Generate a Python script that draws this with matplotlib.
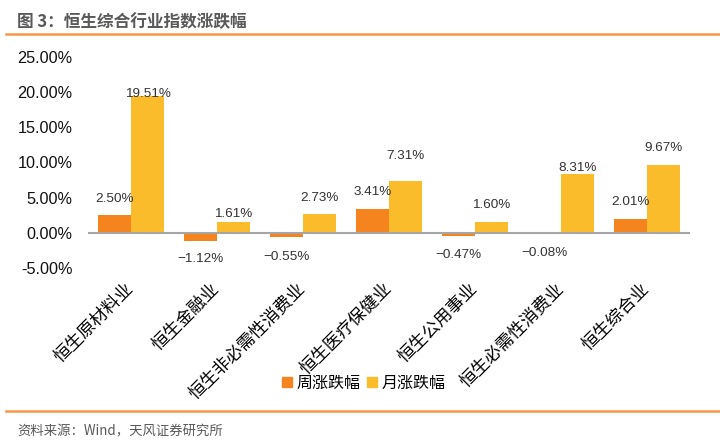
import matplotlib.pyplot as plt
from matplotlib.lines import Line2D
from matplotlib.patches import Patch
import numpy as np

plt.rcParams['font.family'] = ['Liberation Sans', 'Noto Sans CJK SC', 'DejaVu Sans']

# 数据
categories = ['恒生原材料业', '恒生金融业', '恒生非必需性消费业', '恒生医疗保健业',
              '恒生公用事业', '恒生必需性消费业', '恒生综合业']
week = [2.50, -1.12, -0.55, 3.41, -0.47, -0.08, 2.01]
month = [19.51, 1.61, 2.73, 7.31, 1.60, 8.31, 9.67]
series_names = ['周涨跌幅', '月涨跌幅']
yticks = [-5, 0, 5, 10, 15, 20, 25]

# 标签偏移(像素)
week_off = [16, -18, -20, 17, -19, -20, 17]
month_off = [2, 8, 16, 25, 17, 6, 17]

c_week = '#F5841F'
c_month = '#FABC2B'

fig = plt.figure(figsize=(7.2, 4.45), dpi=100)
ax = fig.add_axes([88/720, 1-268/445, 602/720, 211/445])

x = np.arange(len(categories))
w = 0.385
ax.bar(x - w/2, week, w, color=c_week, zorder=2)
ax.bar(x + w/2, month, w, color=c_month, zorder=2)
ax.axhline(0, color='#A6A6A6', lw=1.5, zorder=3)

def fmt(v):
    s = '%.2f%%' % abs(v)
    return ('\u2212' + s) if v < 0 else s

for i in range(len(x)):
    ax.annotate(fmt(week[i]), (x[i] - w/2, week[i]), xytext=(0, week_off[i]),
                textcoords='offset pixels', ha='center', va='center',
                fontsize=9.7, color='#333333', zorder=4)
    ax.annotate(fmt(month[i]), (x[i] + w/2, month[i]), xytext=(0, month_off[i]),
                textcoords='offset pixels', ha='center', va='center',
                fontsize=9.7, color='#333333', zorder=4)

ax.set_xlim(-0.5, len(categories) - 0.5)
ax.set_ylim(-5, 25)
ax.set_yticks(yticks)
ax.set_yticklabels(['%.2f%%' % t for t in yticks], fontsize=11.7, color='#111111')
ax.set_xticks(x)
ax.set_xticklabels(categories, rotation=45, ha='right', va='center',
                   rotation_mode='anchor', fontsize=12.5,
                   family=['Noto Sans CJK SC'])
ax.tick_params(axis='both', length=0)
ax.tick_params(axis='y', pad=11)
ax.tick_params(axis='x', pad=13)
for s in ax.spines.values():
    s.set_visible(False)

handles = [Patch(color=c_week), Patch(color=c_month)]
fig.legend(handles, series_names, loc='center', bbox_to_anchor=(364/720, 1-383/445),
           ncol=2, frameon=False, handlelength=0.6, handleheight=0.6,
           handletextpad=0.3, columnspacing=0.4,
           prop={'family': 'Noto Sans CJK SC', 'size': 11.5})

# 标题和来源
fig.text(17/720, 1-22/445, '图 3：恒生综合行业指数涨跌幅', fontsize=12, fontweight='bold',
         color='#595959', va='center', ha='left', family=['Noto Sans CJK SC'])
fig.add_artist(Line2D([6/720, 1], [1-34/445, 1-34/445], color='#F79646', lw=1.8))
fig.add_artist(Line2D([6/720, 1], [1-411/445, 1-411/445], color='#F79646', lw=1.8))
fig.text(17/720, 1-431/445, '资料来源：Wind，天风证券研究所', fontsize=9.6,
         color='#595959', va='center', ha='left',
         family=['Noto Sans CJK SC', 'Liberation Sans'])

fig.savefig('out.png', dpi=100)
